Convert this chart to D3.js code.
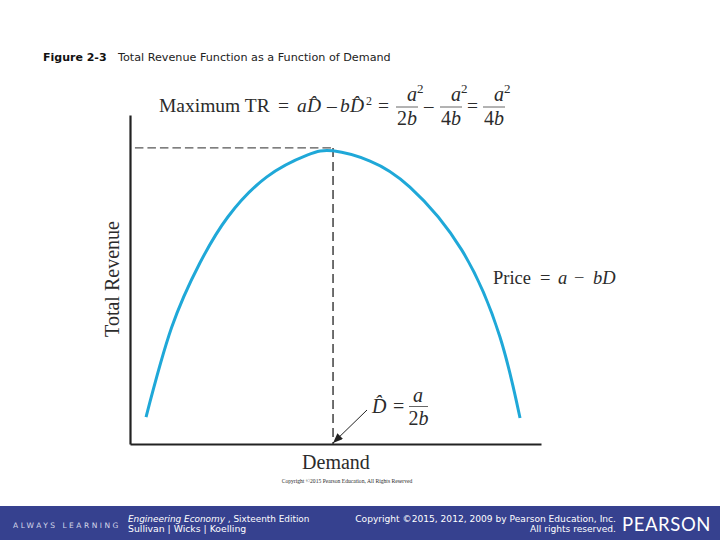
<!DOCTYPE html>
<html>
<head>
<meta charset="utf-8">
<script src="https://cdnjs.cloudflare.com/ajax/libs/d3/7.8.5/d3.min.js"></script>
<style>
  html, body { margin: 0; padding: 0; background: #fff; }
  svg { display: block; }
  .serif { font-family: "Liberation Serif", serif; fill: #2b2b2b; }
  .sans { font-family: "DejaVu Sans", sans-serif; }
  .axis path { stroke: #222; stroke-width: 2.2; }
</style>
</head>
<body>
<div id="chart"></div>
<script>
// curve, both on a 0-100 scale
const demand = [3.9, 10.1, 17.0, 23.8, 33.3, 43.1, 49.4, 58.4, 68.1, 80.7, 90.0, 94.9];
const revenue = [8.2, 35.3, 55.0, 69.0, 81.2, 87.8, 89.1, 86.0, 78.1, 59.0, 32.6, 7.9];

const peakDemand = 49.4;
const peakRevenue = 90;
const dashStart = 1.2;

const width = 720, height = 540;

const svg = d3.select('#chart')
              .append('svg')
              .attr('width', width)
              .attr('height', height);

let xScale = d3.scaleLinear().domain([0, 100]).range([130, 541]);
let yScale = d3.scaleLinear().domain([0, 100]).range([444, 115]);

let xAxis = d3.axisBottom(xScale).tickValues([]).tickSizeOuter(0);
let yAxis = d3.axisLeft(yScale).tickValues([]).tickSizeOuter(0);

svg.append('g').attr('class', 'axis').attr('transform', 'translate(0,' + yScale(0) + ')').call(xAxis);
svg.append('g').attr('class', 'axis').attr('transform', 'translate(' + xScale(0) + ',0)').call(yAxis);

// dashed guides to the peak
svg.append('line')
   .attr('x1', xScale(dashStart)).attr('x2', xScale(peakDemand))
   .attr('y1', yScale(peakRevenue)).attr('y2', yScale(peakRevenue))
   .attr('stroke', '#555').attr('stroke-width', 1.3).attr('stroke-dasharray', '8.5,4');
svg.append('line')
   .attr('x1', xScale(peakDemand)).attr('x2', xScale(peakDemand))
   .attr('y1', yScale(peakRevenue)).attr('y2', yScale(0))
   .attr('stroke', '#222').attr('stroke-width', 1.3).attr('stroke-dasharray', '9,5');

let line = d3.line()
             .x(d => xScale(d[0]))
             .y(d => yScale(d[1]))
             .curve(d3.curveNatural);

svg.append('path')
   .datum(demand.map((d, i) => [d, revenue[i]]))
   .attr('d', line)
   .attr('fill', 'none')
   .attr('stroke', '#1fa8d8')
   .attr('stroke-width', 3);

// arrow to the peak demand on the axis
svg.append('defs').append('marker')
   .attr('id', 'head')
   .attr('viewBox', '0 0 10 8')
   .attr('refX', 10).attr('refY', 4)
   .attr('markerWidth', 11).attr('markerHeight', 8)
   .attr('markerUnits', 'userSpaceOnUse')
   .attr('orient', 'auto')
   .append('path').attr('d', 'M0,0L10,4L0,8Z').attr('fill', '#222');
svg.append('line')
   .attr('x1', 367).attr('y1', 410)
   .attr('x2', xScale(peakDemand)).attr('y2', yScale(0) - 1)
   .attr('stroke', '#222').attr('stroke-width', 1)
   .attr('marker-end', 'url(#head)');

function serif(x, y, str, size, opts) {
  opts = opts || {};
  return svg.append('text')
            .attr('class', 'serif')
            .attr('x', x).attr('y', y)
            .attr('font-size', size)
            .attr('font-style', opts.italic ? 'italic' : null)
            .attr('text-anchor', opts.anchor || 'start')
            .text(str);
}

function bar(x1, x2, y) {
  svg.append('line')
     .attr('x1', x1).attr('x2', x2)
     .attr('y1', y).attr('y2', y)
     .attr('stroke', '#555').attr('stroke-width', 0.9);
}

function denominator(cx, y, digit) {
  const b = svg.append('text').attr('class', 'serif')
               .attr('x', cx).attr('y', y)
               .attr('font-size', 20).attr('text-anchor', 'middle');
  b.append('tspan').text(digit);
  b.append('tspan').attr('font-style', 'italic').text('b');
}

// a squared over 2b or 4b
function fraction(cx, barY, digit) {
  serif(cx + 5, barY - 6, 'a', 20, {italic: true, anchor: 'middle'});
  serif(cx + 10, barY - 14, '2', 13);
  bar(cx - 11, cx + 11, barY);
  denominator(cx, barY + 18, digit);
}

// heading formula
serif(159, 112, 'Maximum TR', 19.5);
serif(278, 112, '=', 19.5);
serif(297, 112, 'a', 19.5, {italic: true});
serif(307, 112, 'D\u0302', 19.5, {italic: true});
serif(327, 112, '–', 19.5);
serif(340, 112, 'b', 19.5, {italic: true});
serif(350, 112, 'D\u0302', 19.5, {italic: true});
serif(366, 105, '2', 12);
serif(378, 112, '=', 19.5);
fraction(407, 107, '2');
serif(424, 112, '–', 19);
fraction(451, 107, '4');
serif(467, 112, '=', 19.5);
fraction(494, 107, '4');

// annotations
serif(493, 284, 'Price', 18.5);
serif(540, 284, '=', 18.5);
serif(558, 284, 'a', 18.5, {italic: true});
serif(574, 284, '−', 18.5);
serif(593, 284, 'bD', 18.5, {italic: true});

serif(372, 413, 'D\u0302', 20, {italic: true});
serif(393, 413, '=', 20);
serif(418, 402, 'a', 20, {italic: true, anchor: 'middle'});
bar(409, 428, 406.5);
denominator(418.5, 425, '2');

serif(336, 469, 'Demand', 20, {anchor: 'middle'});
serif(347, 483, 'Copyright ©2015 Pearson Education, All Rights Reserved', 5.6, {anchor: 'middle'});

svg.append('text')
   .attr('class', 'serif')
   .attr('transform', 'translate(119,279) rotate(-90)')
   .attr('text-anchor', 'middle')
   .attr('font-size', 20)
   .text('Total Revenue');

// slide title
svg.append('text').attr('class', 'sans').attr('x', 43).attr('y', 61).attr('font-size', 11).attr('fill', '#111')
   .attr('font-weight', 'bold').text('Figure 2-3');
svg.append('text').attr('class', 'sans').attr('x', 118).attr('y', 61).attr('font-size', 11.2).attr('fill', '#222')
   .text('Total Revenue Function as a Function of Demand');

// footer band
svg.append('rect').attr('x', 0).attr('y', 506).attr('width', width).attr('height', 34).attr('fill', '#36418f');

function foot(x, y, str, size, anchor) {
  return svg.append('text').attr('class', 'sans')
            .attr('x', x).attr('y', y)
            .attr('font-size', size)
            .attr('fill', '#fff')
            .attr('text-anchor', anchor || 'start')
            .text(str);
}

foot(13, 528, 'ALWAYS LEARNING', 7.5).attr('letter-spacing', 2.5).attr('fill', '#d5d8ea');
const ed = svg.append('text').attr('class', 'sans').attr('x', 128).attr('y', 522).attr('font-size', 8.9).attr('fill', '#fff');
ed.append('tspan').attr('font-style', 'italic').text('Engineering Economy');
ed.append('tspan').text(' , Sixteenth Edition');
foot(128, 532, 'Sullivan | Wicks | Koelling', 9.3);
foot(616, 522, 'Copyright ©2015, 2012, 2009 by Pearson Education, Inc.', 9.1, 'end');
foot(616, 532, 'All rights reserved.', 9.1, 'end');
svg.append('text').attr('x', 622).attr('y', 531)
   .attr('font-family', 'Lato, sans-serif').attr('font-size', 18.5)
   .attr('letter-spacing', 0.6).attr('fill', '#fff')
   .text('PEARSON');
</script>
</body>
</html>
